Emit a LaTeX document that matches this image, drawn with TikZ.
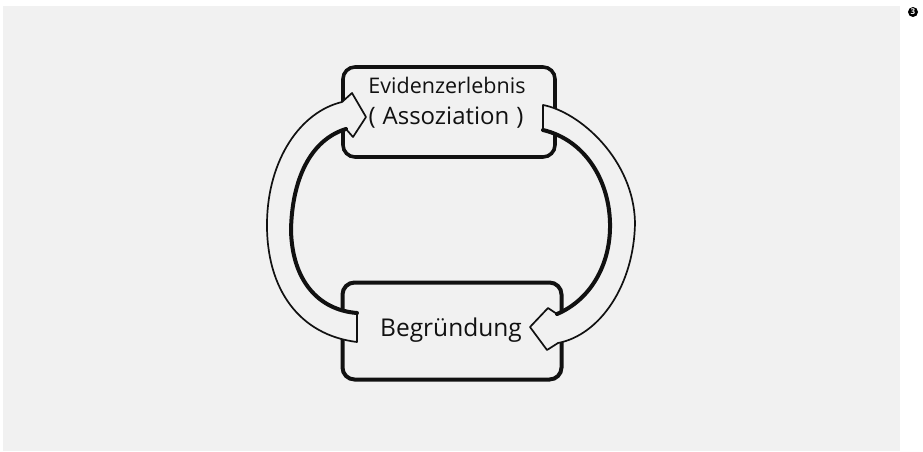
\documentclass[tikz,border=0pt]{standalone}
\usepackage{fontspec}
\setmainfont{Open Sans}
\definecolor{bgc}{HTML}{F1F1F1}
\definecolor{inkc}{HTML}{111111}
\begin{document}
\begin{tikzpicture}[x=1pt,y=-1pt,
  boxst/.style={draw=inkc, line width=3.6pt, rounded corners=12pt, fill=bgc, inner sep=0pt},
  arrowst/.style={draw=inkc, fill=bgc, line width=1.7pt, line join=round},
  innerst/.style={draw=inkc, line width=4pt, line cap=round},
  label/.style={text=inkc, inner sep=0pt, anchor=center}]
\useasboundingbox (0,0) rectangle (923,451);
\fill[white] (0,0) rectangle (923,451);
\fill[bgc] (3,6) rectangle (900,451);

% boxes
\node[boxst, minimum width=212pt, minimum height=90pt] (topbox) at (449,112) {};
\node[boxst, minimum width=219pt, minimum height=97pt, line width=4pt] (botbox) at (452,331) {};

% left arrow (Begruendung -> Evidenzerlebnis)
\coordinate (la1) at (357,342);
\coordinate (la2) at (357,313);
\coordinate (latip) at (366,117);
\draw[arrowst] (la1) .. controls (300,335) and (266,290) .. (267,222)
  .. controls (268,160) and (300,112) .. (342,102) -- (352,93) -- (latip) -- (353,137) -- (346,129)
  .. controls (310,140) and (292,180) .. (291,230)
  .. controls (292,280) and (318,310) .. (la2) -- cycle;
\draw[innerst] (346,129) .. controls (310,140) and (292,180) .. (291,230)
  .. controls (292,280) and (318,310) .. (la2);

% right arrow (Evidenzerlebnis -> Begruendung)
\coordinate (ra1) at (543,105);
\coordinate (ra2) at (543,130);
\coordinate (ratip) at (530,327);
\draw[arrowst] (ra1) .. controls (580,112) and (634,160) .. (635,223)
  .. controls (634,285) and (600,335) .. (558,343) -- (547,350) -- (ratip) -- (548,308) -- (557,314)
  .. controls (590,300) and (611,265) .. (610,223)
  .. controls (609,180) and (585,140) .. (ra2) -- cycle;
\draw[innerst] (557,314) .. controls (590,300) and (611,265) .. (610,223)
  .. controls (609,180) and (585,140) .. (ra2);

% texts
\node[label, font=\fontsize{21.5}{21.5}\selectfont] (t1) at (447,85) {Evidenzerlebnis};
\node[label, font=\fontsize{24}{24}\selectfont] (t2) at (446,118) {(\hspace{7pt}Assoziation\hspace{7pt})};
\node[label, font=\fontsize{24.5}{24.5}\selectfont] (t3) at (451,330) {Begründung};

% marker
\node[circle, fill=black, inner sep=0pt, minimum size=10pt, text=white,
      font=\bfseries\fontsize{8}{8}\selectfont] (mark) at (913,12) {3};
\end{tikzpicture}
\end{document}
